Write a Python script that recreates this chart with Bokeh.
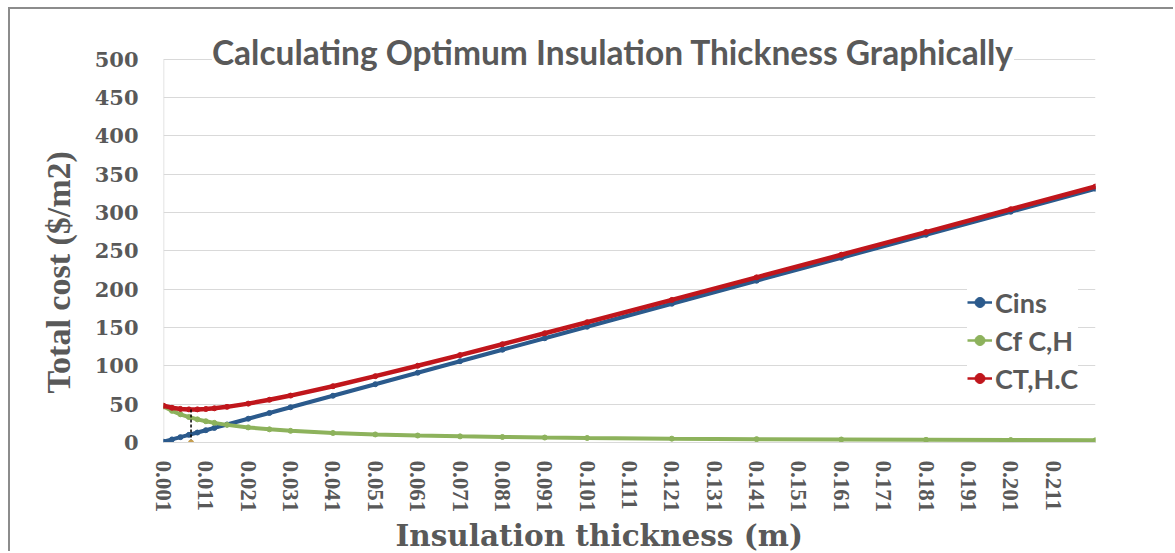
import math
from bokeh.plotting import figure
from bokeh.models import FixedTicker, Label, Legend, LegendItem, ColumnDataSource, Range1d, Title
from bokeh.embed import file_html
from bokeh.resources import INLINE

# ---- data ----
thickness = [0.001, 0.003, 0.005, 0.007, 0.009, 0.011, 0.013, 0.016, 0.021, 0.026,
             0.031, 0.041, 0.051, 0.061, 0.071, 0.081, 0.091, 0.101, 0.121, 0.141,
             0.161, 0.181, 0.201, 0.221]
cins = [1, 4, 7, 10, 13, 16, 19, 23.5, 31, 38.5,
        46, 61, 76, 91, 106, 121, 136, 151, 181, 211,
        241, 271, 301, 331]
cf = [47, 41.3, 36.8, 33.2, 30.2, 27.7, 25.6, 23, 19.7, 17.2,
      15.2, 12.4, 10.5, 9.1, 8, 7.2, 6.5, 5.9, 5, 4.4,
      3.9, 3.5, 3.2, 2.9]
ct = [48, 45.3, 43.8, 43.2, 43.2, 43.7, 44.6, 46.5, 50.7, 55.7,
      61.2, 73.4, 86.5, 100.1, 114, 128.2, 142.5, 156.9, 186, 215.4,
      244.9, 274.5, 304.2, 333.9]
opt_thickness = [0.0075]
opt_cost = [43.2]
opt_base = [0]

x_tick_labels = ["0.001", "0.011", "0.021", "0.031", "0.041", "0.051", "0.061", "0.071",
                 "0.081", "0.091", "0.101", "0.111", "0.121", "0.131", "0.141", "0.151",
                 "0.161", "0.171", "0.181", "0.191", "0.201", "0.211"]
y_ticks = [0, 50, 100, 150, 200, 250, 300, 350, 400, 450, 500]

series_names = ["Cins", "Cf C,H", "CT,H.C"]
series_colors = ["#2b5a8c", "#8db25c", "#c0161c"]

title_text = "Calculating Optimum Insulation Thickness Graphically"
x_title = "Insulation thickness (m)"
y_title = "Total cost ($/m2)"

GREY = "#595959"
Y_VIEW_TOP = 540  # headroom above 500 so the title sits inside the plot area

p = figure(width=1165, height=544, output_backend="svg", toolbar_location=None,
           x_range=Range1d(thickness[0], thickness[-1]), y_range=Range1d(y_ticks[0], Y_VIEW_TOP),
           min_border_left=153, min_border_right=80, min_border_top=19, min_border_bottom=111)
p.styles = {"margin": "7px 0px 0px 8px", "border-top": "2px solid #8c8c8c",
            "border-left": "2px solid #8c8c8c"}
p.outline_line_color = None
p.background_fill_color = "white"
p.border_fill_color = "white"

# axes
x_tick_values = [float(s) for s in x_tick_labels]
p.xaxis.ticker = FixedTicker(ticks=x_tick_values)
p.xaxis.major_label_overrides = {v: s for v, s in zip(x_tick_values, x_tick_labels)}
p.xaxis.major_label_orientation = -math.pi / 2
p.xaxis.major_label_text_font = "Liberation Serif"
p.xaxis.major_label_text_font_style = "bold"
p.xaxis.major_label_text_font_size = "23px"
p.xaxis.major_label_text_color = GREY
p.xaxis.major_label_standoff = 12

p.yaxis.ticker = FixedTicker(ticks=y_ticks)
p.yaxis.major_label_text_font = "DejaVu Serif"
p.yaxis.major_label_text_font_style = "bold"
p.yaxis.major_label_text_font_size = "21px"
p.yaxis.major_label_text_color = GREY
p.yaxis.major_label_standoff = 19

p.xaxis.axis_line_color = "#d9d9d9"
p.yaxis.axis_line_color = None
for ax in (p.xaxis, p.yaxis):
    ax.major_tick_line_color = None
    ax.minor_tick_line_color = None

# axis titles (Title models allow an offset along the axis)
xt = Title(text=x_title, align="left", offset=232, text_font="DejaVu Serif",
           text_font_style="bold", text_font_size="29.5px", text_color=GREY)
yt = Title(text=y_title, align="left", offset=49, text_font="Liberation Serif",
           text_font_style="bold", text_font_size="34px", text_color=GREY)
if "standoff" in xt.properties():
    xt.standoff = 0
    yt.standoff = 30
p.add_layout(xt, "below")
p.add_layout(yt, "left")

p.xgrid.visible = False
p.ygrid.grid_line_color = "#d9d9d9"
p.ygrid.grid_line_width = 1

# vertical value axis line from 0 to 500
axis_src = ColumnDataSource(dict(x=[thickness[0]], y0=[y_ticks[0]], y1=[y_ticks[-1]]))
p.segment(x0="x", y0="y0", x1="x", y1="y1", source=axis_src, line_color="#d9d9d9", line_width=1.5)

# series
src = ColumnDataSource(dict(x=thickness, cins=cins, cf=cf, ct=ct))
cols = ["cins", "cf", "ct"]
widths = [4, 4, 4.5]
items = []
for name, col, color, w in zip(series_names, cols, series_colors, widths):
    thin = p.line("x", col, source=src, line_color=color, line_width=2.5)
    p.line("x", col, source=src, line_color=color, line_width=w)
    dots = p.scatter("x", col, source=src, size=5, color=color)
    items.append(LegendItem(label=name, renderers=[thin, dots]))

# optimum marker
opt_src = ColumnDataSource(dict(x=opt_thickness, y0=opt_base, y1=opt_cost))
p.segment(x0="x", y0="y0", x1="x", y1="y1", source=opt_src, line_color="black",
          line_width=1.5, line_dash="3 2")
p.scatter("x", "y0", source=opt_src, size=5, color="#c8a050")

# title
title = Label(x=0.1071, y=509, text=title_text, text_align="center", text_baseline="middle",
              text_font="Lato", text_font_style="bold", text_font_size="33.5px",
              text_color=GREY, background_fill_color="white")
p.add_layout(title)

legend = Legend(items=items, location=(804, 45), label_text_font="Lato",
                label_text_font_style="bold", label_text_font_size="27px",
                label_text_color=GREY, glyph_width=25, glyph_height=38, label_height=38,
                spacing=0, padding=0, margin=0, background_fill_color="white",
                background_fill_alpha=1, border_line_color=None, label_standoff=3)
p.add_layout(legend)

open("out.html", "w").write(file_html(p, INLINE))
